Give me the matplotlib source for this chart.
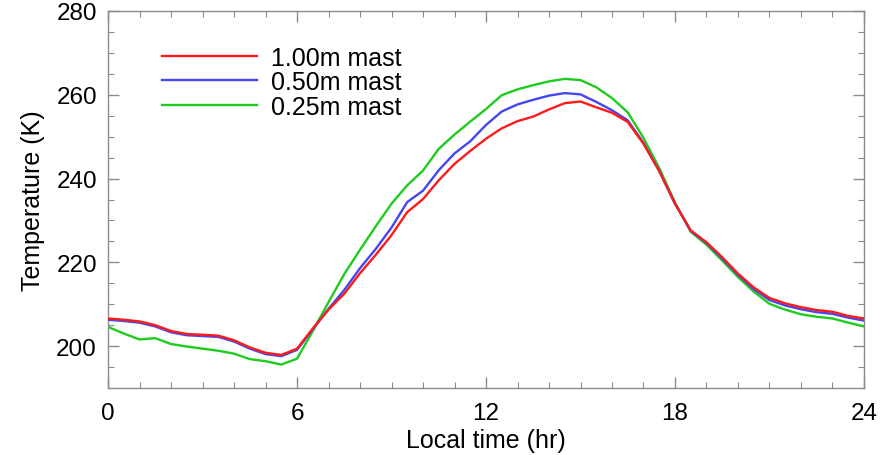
# surface temperature vs local time for three mast heights

import numpy as np
import matplotlib.pyplot as plt
from matplotlib.ticker import MultipleLocator

plt.rcParams['font.family'] = ['Liberation Sans', 'DejaVu Sans']

# data (every half hour)
local_time = np.arange(0, 24.5, 0.5)

t_100 = [206.6, 206.3, 205.9, 205.0, 203.6, 202.9, 202.7, 202.5, 201.4, 199.7,
         198.4, 197.9, 199.4, 204.2, 208.7, 212.5, 217.4, 221.8, 226.5, 232.0,
         235.1, 239.6, 243.5, 246.6, 249.5, 252.0, 253.7, 254.8, 256.5, 258.0,
         258.4, 257.0, 255.7, 253.5, 248.3, 241.8, 234.0, 227.6, 224.8, 221.2,
         217.3, 214.0, 211.5, 210.2, 209.3, 208.6, 208.2, 207.2, 206.6]

t_050 = [206.3, 206.0, 205.6, 204.7, 203.3, 202.6, 202.4, 202.2, 201.1, 199.4,
         198.1, 197.6, 199.1, 204.0, 208.9, 213.4, 218.6, 223.2, 228.3, 234.4,
         237.1, 242.0, 246.0, 248.9, 252.8, 256.0, 257.7, 258.8, 259.8, 260.4,
         260.1, 258.3, 256.3, 253.9, 248.5, 241.8, 234.0, 227.5, 224.6, 220.9,
         217.0, 213.6, 211.0, 209.7, 208.8, 208.1, 207.7, 206.8, 206.1]

t_025 = [204.6, 203.0, 201.6, 201.9, 200.5, 199.9, 199.4, 198.9, 198.2, 196.9,
         196.4, 195.6, 197.0, 203.6, 210.5, 217.2, 223.0, 228.6, 234.0, 238.4,
         241.9, 247.1, 250.5, 253.6, 256.6, 259.9, 261.3, 262.3, 263.2, 263.8,
         263.5, 261.8, 259.2, 255.8, 249.7, 242.5, 234.3, 227.3, 224.2, 220.4,
         216.5, 213.0, 210.1, 208.7, 207.6, 207.0, 206.6, 205.6, 204.7]

labels = ["1.00m mast", "0.50m mast", "0.25m mast"]
colors = ["#ff1a1a", "#4646f0", "#1ecc1e"]

fig = plt.figure(figsize=(8.92, 4.56), dpi=100)
ax = fig.add_axes([0.1211, 0.1469, 0.8475, 0.8268])

l3, = ax.plot(local_time, t_025, color=colors[2], lw=1.7, zorder=2)
l2, = ax.plot(local_time, t_050, color=colors[1], lw=1.7, zorder=3)
l1, = ax.plot(local_time, t_100, color=colors[0], lw=1.7, zorder=4)

ax.set_xlim(0, 24)
ax.set_ylim(190, 280)
ax.xaxis.set_major_locator(MultipleLocator(6))
ax.xaxis.set_minor_locator(MultipleLocator(1))
ax.yaxis.set_major_locator(MultipleLocator(20))
ax.yaxis.set_minor_locator(MultipleLocator(5))

for s in ax.spines.values():
    s.set_color("#8c8c8c")
    s.set_linewidth(1.0)

ax.tick_params(which='both', direction='in', top=True, right=True,
               color='#8c8c8c', labelsize=17.5)
ax.tick_params(which='major', length=8, width=1.0)
ax.tick_params(which='minor', length=4, width=0.8)
ax.tick_params(axis='x', pad=10)
ax.tick_params(axis='y', pad=8)

ax.set_xlabel("Local time (hr)", fontsize=18, labelpad=3)
ax.set_ylabel("Temperature (K)", fontsize=18, labelpad=8)

ax.legend([l1, l2, l3], labels, loc='upper left',
          bbox_to_anchor=(0.072, 0.908), frameon=False, fontsize=18,
          handlelength=3.8, handletextpad=0.56, labelspacing=0.02,
          borderpad=0, borderaxespad=0)

fig.savefig("out.png", dpi=100)
